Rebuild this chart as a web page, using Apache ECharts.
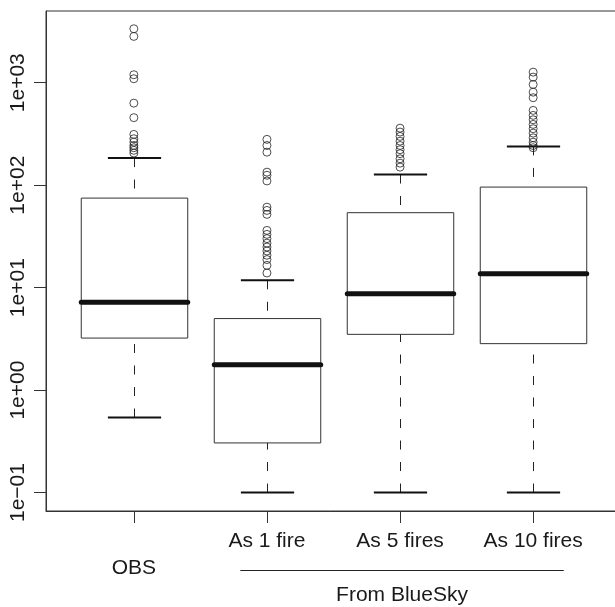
<!DOCTYPE html>
<html><head><meta charset="utf-8">
<script src="https://cdn.jsdelivr.net/npm/echarts@6/dist/echarts.min.js"></script>
<style>html,body{margin:0;padding:0;background:#fff}#c{width:615px;height:607px}</style>
</head><body><div id="c"></div>
<script>
// ---- data ----
const categories = ['OBS', 'As 1 fire', 'As 5 fires', 'As 10 fires'];
const groupLabel = 'From BlueSky';
const groupMembers = [1, 2, 3];          // category indices belonging to the group
const groupSpan = [1.8, 4.23];           // extent of the group bracket in axis units

const whiskerLow  = [0.54, 0.1, 0.1, 0.1];
const quartile1   = [3.22, 0.305, 3.50, 2.84];
const medians     = [7.19, 1.77, 8.74, 13.7];
const quartile3   = [74.8, 4.99, 53.9, 95.8];
const whiskerHigh = [184, 11.8, 127, 239];

const outliersOBS = [3363, 2832, 1197, 1094, 632, 456, 313, 284, 263, 244, 232, 219, 206];
const outliers1   = [280, 244, 210, 134, 125, 110, 61, 56.7, 51.9, 36.2, 33.1, 30.1, 27.2, 24.9, 22.8, 20.7, 18.8, 16.5, 13.9];
const outliers5   = [360, 330, 299, 269, 244, 222, 203, 181, 164, 150];
const outliers10  = [1268, 1134, 962, 809, 714, 537, 480, 435, 392, 356, 322, 290, 263, 244, 232];
const outlierLists = [outliersOBS, outliers1, outliers5, outliers10];

const yTickExps   = [-1, 0, 1, 2, 3];
const yTickLabels = ['1e\u221201', '1e+00', '1e+01', '1e+02', '1e+03'];

// ---- build ----
const lg = Math.log10;
const boxData = categories.map((c, i) => [i + 1, lg(whiskerLow[i]), lg(quartile1[i]), lg(medians[i]), lg(quartile3[i]), lg(whiskerHigh[i])]);
const outlierData = [];
outlierLists.forEach((list, i) => list.forEach(v => outlierData.push([i + 1, lg(v)])));

const FONT = '"Liberation Sans", Arial, Helvetica, sans-serif';
const INK = '#1a1a1a';
const chart = echarts.init(document.getElementById('c'), null, {renderer: 'canvas'});

chart.setOption({
  animation: false,
  backgroundColor: '#fff',
  grid: {left: 46, right: -6, top: 11, bottom: 96, show: true, borderColor: '#333', borderWidth: 1,
         containLabel: false, outerBoundsMode: 'none'},
  xAxis: {
    type: 'value', min: 0.34, max: 4.66,
    axisLine: {show: true, onZero: false, lineStyle: {color: '#333', width: 1}},
    axisTick: {show: true, customValues: [1, 2, 3, 4], length: 12, lineStyle: {color: '#333', width: 1}},
    axisLabel: {
      customValues: [1, 2, 3, 4], margin: 17, fontSize: 21, lineHeight: 27, color: INK, fontFamily: FONT,
      formatter: v => {
        const i = Math.round(v) - 1;
        return groupMembers.indexOf(i) >= 0 ? categories[i] : '\n' + categories[i];
      }
    },
    splitLine: {show: false}
  },
  yAxis: {
    type: 'value', min: -1.18, max: 3.70,
    axisLine: {show: true, onZero: false, lineStyle: {color: '#333', width: 1}},
    axisTick: {show: true, customValues: yTickExps, length: 12, lineStyle: {color: '#333', width: 1}},
    axisLabel: {
      customValues: yTickExps, rotate: 90, margin: 17, fontSize: 21, color: INK, fontFamily: FONT,
      formatter: v => yTickLabels[yTickExps.indexOf(Math.round(v))]
    },
    splitLine: {show: false}
  },
  series: [
    {
      type: 'custom', name: 'boxes', data: boxData, encode: {x: 0, y: [1, 2, 3, 4, 5]}, z: 2, silent: true,
      renderItem: (params, api) => {
        const x = api.value(0);
        const pMin = api.coord([x, api.value(1)]);
        const pQ1 = api.coord([x, api.value(2)]);
        const pMed = api.coord([x, api.value(3)]);
        const pQ3 = api.coord([x, api.value(4)]);
        const pMax = api.coord([x, api.value(5)]);
        const hw = api.size([0.4, 0])[0];
        const cx = Math.round(pMed[0]) + 0.5;
        const dash = {stroke: '#222', lineWidth: 1, lineDash: [9, 12.5]};
        return {type: 'group', children: [
          {type: 'line', shape: {x1: cx, y1: pMax[1], x2: cx, y2: pQ3[1]}, style: dash},
          {type: 'line', shape: {x1: cx, y1: pMin[1], x2: cx, y2: pQ1[1]}, style: dash},
          {type: 'line', shape: {x1: cx - hw / 2, y1: pMax[1], x2: cx + hw / 2, y2: pMax[1]}, style: {stroke: '#111', lineWidth: 2}},
          {type: 'line', shape: {x1: cx - hw / 2, y1: pMin[1], x2: cx + hw / 2, y2: pMin[1]}, style: {stroke: '#111', lineWidth: 2}},
          {type: 'rect', shape: {x: cx - hw, y: pQ3[1], width: 2 * hw, height: pQ1[1] - pQ3[1]}, style: {fill: 'none', stroke: '#333', lineWidth: 1}},
          {type: 'line', shape: {x1: cx - hw, y1: pMed[1], x2: cx + hw, y2: pMed[1]}, style: {stroke: '#111', lineWidth: 5, lineCap: 'round'}}
        ]};
      }
    },
    {
      type: 'scatter', name: 'outliers', data: outlierData, symbol: 'circle', symbolSize: 8, z: 3, silent: true,
      itemStyle: {color: 'rgba(0,0,0,0)', borderColor: '#222', borderWidth: 1}
    },
    {
      type: 'custom', name: 'group', data: [groupSpan], encode: {x: [0, 1]}, clip: false, silent: true, z: 4,
      renderItem: (params, api) => {
        const bottom = params.coordSys.y + params.coordSys.height;
        const a = api.coord([api.value(0), 0])[0];
        const b = api.coord([api.value(1), 0])[0];
        const ly = Math.round(bottom + 59) + 0.5;
        return {type: 'group', children: [
          {type: 'line', shape: {x1: a, y1: ly, x2: b, y2: ly}, style: {stroke: '#222', lineWidth: 1}},
          {type: 'text', style: {text: groupLabel, x: (a + b) / 2, y: bottom + 84, align: 'center', verticalAlign: 'middle',
            font: '21px ' + FONT, fill: INK}}
        ]};
      }
    }
  ]
});
</script></body></html>
